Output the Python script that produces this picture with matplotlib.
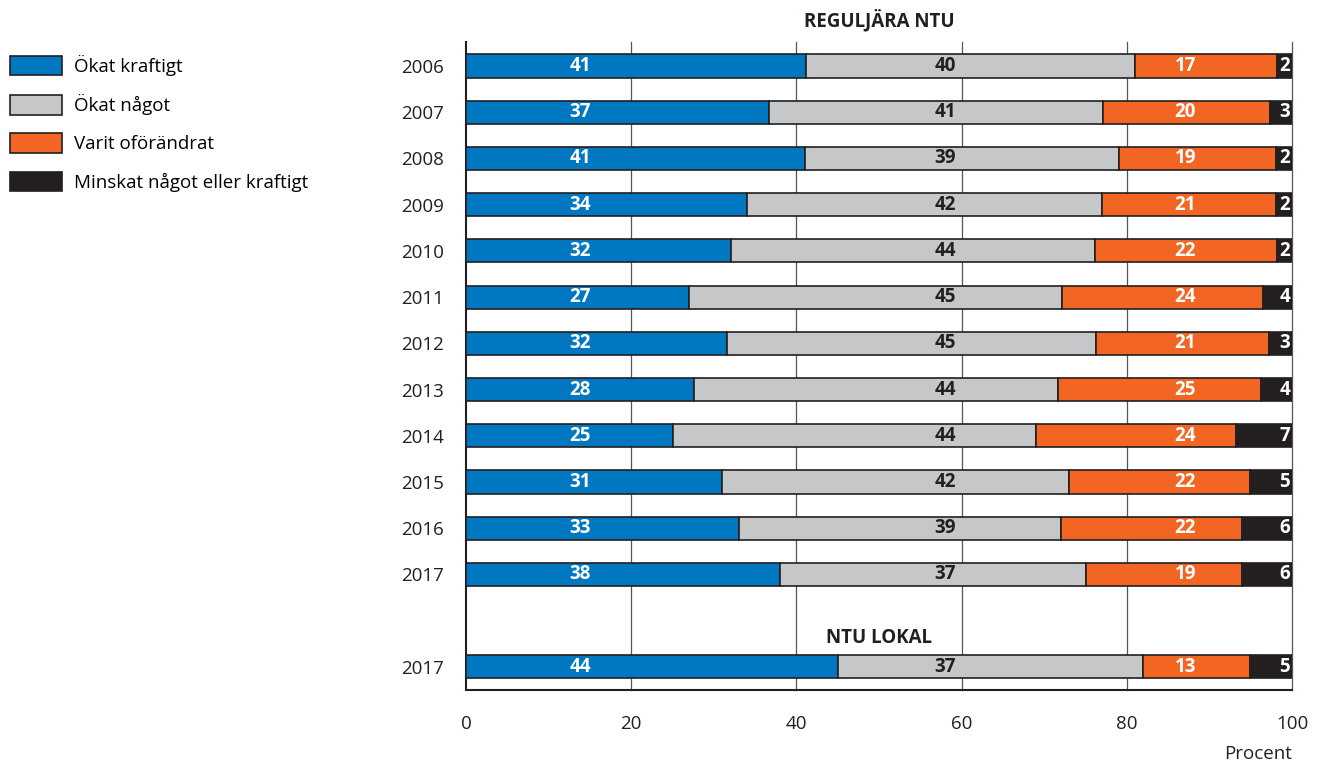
import matplotlib
matplotlib.use("Agg")
import matplotlib.pyplot as plt
from matplotlib.patches import Patch

plt.rcParams['font.family'] = ['Open Sans', 'DejaVu Sans']

years = ["2006", "2007", "2008", "2009", "2010", "2011", "2012", "2013",
         "2014", "2015", "2016", "2017", "2017"]
# Segment widths as drawn (percent)
okat_kraftigt = [41.2, 36.7, 41.0, 34.0, 32.1, 27.0, 31.6, 27.6, 25.1, 31.0, 33.1, 38.0, 45.0]
okat_nagot    = [39.8, 40.4, 38.1, 43.0, 44.1, 45.2, 44.7, 44.1, 43.9, 42.0, 38.9, 37.1, 37.0]
oforandrat    = [17.2, 20.2, 19.0, 21.1, 22.0, 24.3, 20.9, 24.5, 24.2, 21.9, 21.9, 18.8, 12.9]
minskat       = [1.8, 2.7, 1.9, 1.9, 1.8, 3.5, 2.8, 3.8, 6.8, 5.1, 6.1, 6.1, 5.1]
# Printed labels
lab_kraftigt = ["41", "37", "41", "34", "32", "27", "32", "28", "25", "31", "33", "38", "44"]
lab_nagot    = ["40", "41", "39", "42", "44", "45", "45", "44", "44", "42", "39", "37", "37"]
lab_ofor     = ["17", "20", "19", "21", "22", "24", "21", "25", "24", "22", "22", "19", "13"]
lab_minskat  = ["2", "3", "2", "2", "2", "4", "3", "4", "7", "5", "6", "6", "5"]

series_names = ["Ökat kraftigt", "Ökat något", "Varit oförändrat", "Minskat något eller kraftigt"]
colors = ["#0077c1", "#c6c7c9", "#f26522", "#231f20"]
positions = list(range(12)) + [13]
xticks = [0, 20, 40, 60, 80, 100]

FS = 13.5
fig = plt.figure(figsize=(13.22, 7.63), dpi=100)
ax = fig.add_axes([466/1322, 1 - 690/763, (1292-466)/1322, (690-42)/763])

edge = "#231f20"
left = [0.0]*len(positions)
for vals, col in zip([okat_kraftigt, okat_nagot, oforandrat, minskat], colors):
    ax.barh(positions, vals, left=left, height=0.5, color=col, edgecolor=edge,
            linewidth=1.2, zorder=3)
    left = [l + v for l, v in zip(left, vals)]

# value labels
for p, a, b, c, d in zip(positions, lab_kraftigt, lab_nagot, lab_ofor, lab_minskat):
    ax.text(13.8, p, a, ha='center', va='center', color='white', fontsize=FS,
            fontweight='bold', zorder=4)
    ax.text(58.0, p, b, ha='center', va='center', color='#231f20', fontsize=FS,
            fontweight='bold', zorder=4)
    ax.text(87.1, p, c, ha='center', va='center', color='white', fontsize=FS,
            fontweight='bold', zorder=4)
    ax.text(99.8, p, d, ha='right', va='center', color='white', fontsize=FS,
            fontweight='bold', zorder=4)

ax.set_xlim(0, 100)
ax.set_ylim(13.5, -0.52)
ax.set_xticks(xticks)
ax.set_xticklabels([str(t) for t in xticks], fontsize=FS, color='#231f20')
ax.set_yticks(positions)
ax.set_yticklabels(years, fontsize=FS, color='#231f20')
ax.tick_params(axis='both', length=0)
ax.tick_params(axis='x', pad=18)
ax.tick_params(axis='y', pad=16)
for s in ['top', 'right']:
    ax.spines[s].set_visible(False)
for s in ['left', 'bottom']:
    ax.spines[s].set_color('#231f20')
    ax.spines[s].set_linewidth(1.5)
ax.set_axisbelow(True)
for t in [20, 40, 60, 80, 100]:
    ax.axvline(t, color='#555555', linewidth=0.9, zorder=1, clip_on=False)

ax.text(50, -0.99, "REGULJÄRA NTU", ha='center', va='center', fontsize=FS,
        fontweight='bold', color='#231f20', clip_on=False)
ax.text(50, 12.37, "NTU LOKAL", ha='center', va='center', fontsize=FS,
        fontweight='bold', color='#231f20')
fig.text(1292/1322, 1 - 754/763, "Procent", ha='right', va='center', fontsize=FS,
         color='#231f20')

handles = [Patch(facecolor=c, edgecolor=edge, linewidth=1.2) for c in colors]
fig.legend(handles, series_names, loc='upper left', bbox_to_anchor=(10/1322, 1 - 55/763),
           frameon=False, fontsize=FS, handlelength=2.77, handleheight=1.2,
           labelspacing=0.97, handletextpad=0.64, borderaxespad=0.0, borderpad=0.0)

fig.savefig("out.png", dpi=100)
